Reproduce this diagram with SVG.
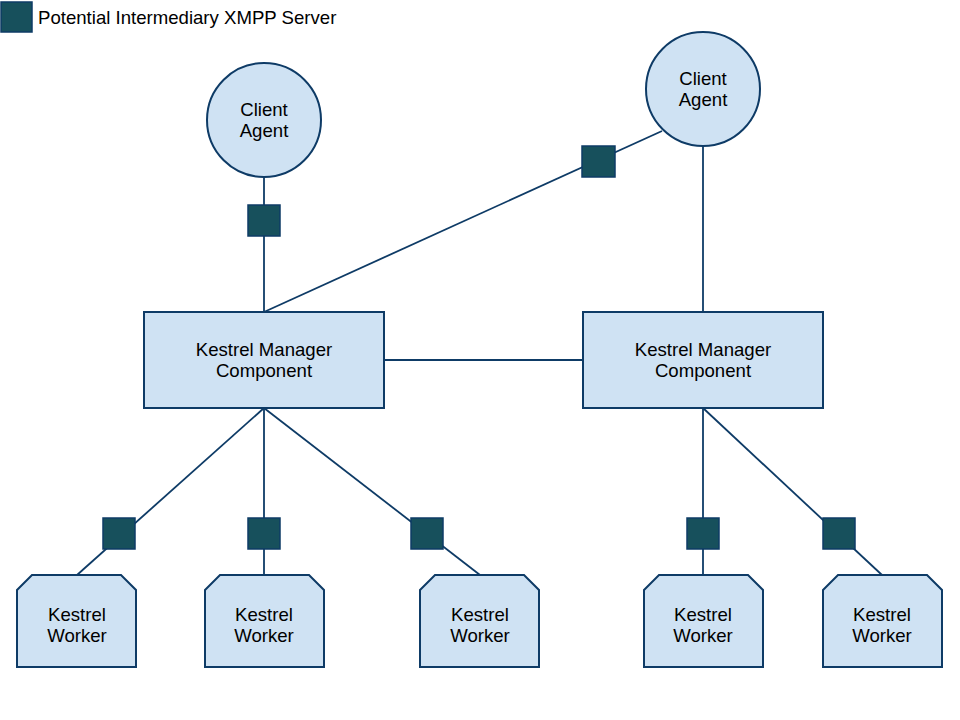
<svg xmlns="http://www.w3.org/2000/svg" width="960" height="720" viewBox="0 0 960 720">
<style>
.node{fill:#cfe2f3;stroke:#0e3b66;stroke-width:2}
.srv{fill:#17505c;stroke:#0e3b66;stroke-width:1.5}
.conn line{stroke:#0e3b66;stroke-width:1.8}
text{font-family:"Liberation Sans",Arial,sans-serif;font-size:18.6px;fill:#000;text-anchor:middle}
</style>
<rect width="960" height="720" fill="#fff"/>
<g id="legend">
<rect class="srv" x="1" y="2" width="31" height="30"/>
<text x="38" y="24" style="text-anchor:start">Potential Intermediary XMPP Server</text>
</g>
<g class="conn" id="connectors">
<line x1="264" y1="177" x2="264" y2="312"/>
<line x1="264" y1="312" x2="662" y2="131"/>
<line x1="703" y1="146" x2="703" y2="312"/>
<line x1="384" y1="360" x2="583" y2="360"/>
<line x1="264" y1="408" x2="77" y2="575"/>
<line x1="264" y1="408" x2="264" y2="575"/>
<line x1="264" y1="408" x2="480" y2="575"/>
<line x1="703" y1="408" x2="703" y2="575"/>
<line x1="703" y1="408" x2="882" y2="575"/>
</g>
<g id="servers">
<rect class="srv" x="248" y="205" width="32" height="31"/>
<rect class="srv" x="582" y="146" width="33" height="31"/>
<rect class="srv" x="103" y="518" width="32" height="31"/>
<rect class="srv" x="248" y="518" width="32" height="31"/>
<rect class="srv" x="411" y="518" width="32" height="31"/>
<rect class="srv" x="687" y="518" width="32" height="31"/>
<rect class="srv" x="823" y="518" width="32" height="31"/>
</g>
<g id="client1">
<circle class="node" cx="264" cy="120" r="57"/>
<text x="264" y="116">Client</text>
<text x="264" y="137">Agent</text>
</g>
<g id="client2">
<circle class="node" cx="703" cy="89" r="57"/>
<text x="703" y="85">Client</text>
<text x="703" y="106">Agent</text>
</g>
<g id="manager1">
<rect class="node" x="144" y="312" width="240" height="96"/>
<text x="264" y="356">Kestrel Manager</text>
<text x="264" y="377">Component</text>
</g>
<g id="manager2">
<rect class="node" x="583" y="312" width="240" height="96"/>
<text x="703" y="356">Kestrel Manager</text>
<text x="703" y="377">Component</text>
</g>
<g id="worker1">
<path class="node" d="M17,590 L32,575 L121,575 L136,590 L136,667 L17,667 Z"/>
<text x="77" y="621">Kestrel</text>
<text x="77" y="642">Worker</text>
</g>
<g id="worker2">
<path class="node" d="M205,590 L220,575 L309,575 L324,590 L324,667 L205,667 Z"/>
<text x="264" y="621">Kestrel</text>
<text x="264" y="642">Worker</text>
</g>
<g id="worker3">
<path class="node" d="M420,590 L435,575 L524,575 L539,590 L539,667 L420,667 Z"/>
<text x="480" y="621">Kestrel</text>
<text x="480" y="642">Worker</text>
</g>
<g id="worker4">
<path class="node" d="M644,590 L659,575 L748,575 L763,590 L763,667 L644,667 Z"/>
<text x="703" y="621">Kestrel</text>
<text x="703" y="642">Worker</text>
</g>
<g id="worker5">
<path class="node" d="M823,590 L838,575 L927,575 L942,590 L942,667 L823,667 Z"/>
<text x="882" y="621">Kestrel</text>
<text x="882" y="642">Worker</text>
</g>
</svg>
